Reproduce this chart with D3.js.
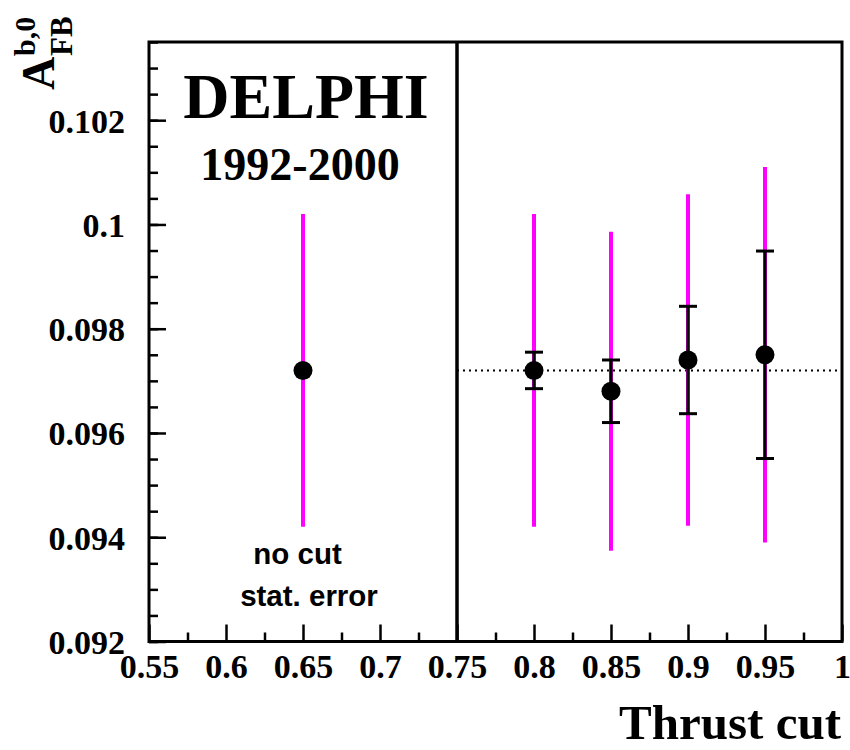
<!DOCTYPE html>
<html>
<head>
<meta charset="utf-8">
<script src="https://cdn.jsdelivr.net/npm/d3@7"></script>
<style>
  body { margin: 0; background: #fff; }
  svg { display: block; }
</style>
</head>
<body>
<svg id="chart" width="850" height="750"></svg>
<script>
// ---- data ----
const thrustCuts = [0.65, 0.8, 0.85, 0.9, 0.95];
const afbValues  = [0.0972, 0.0972, 0.0968, 0.0974, 0.0975];
const statErrors = [0.0030, 0.0030, 0.00306, 0.00318, 0.0036];
const cutErrors  = [null, 0.00035, 0.0006, 0.00103, 0.00199];
const referenceValue = 0.0972;
const xMajorTicks = [0.55, 0.6, 0.65, 0.7, 0.75, 0.8, 0.85, 0.9, 0.95, 1.0];
const xTickLabels = ["0.55", "0.6", "0.65", "0.7", "0.75", "0.8", "0.85", "0.9", "0.95", "1"];
const yMajorTicks = [0.092, 0.094, 0.096, 0.098, 0.1, 0.102];
const yTickLabels = ["0.092", "0.094", "0.096", "0.098", "0.1", "0.102"];
const separatorCut = 0.75;

// ---- layout ----
const svg = d3.select("#chart");
const L = 149, R = 842, T = 42, B = 641.5;
const x = d3.scaleLinear().domain([0.55, 1.0]).range([L, R]);
const y = d3.scaleLinear().domain([0.092, 0.1035]).range([B, T]);
const serif = "'Liberation Serif', 'Times New Roman', serif";
const sans = "'Liberation Sans', Arial, Helvetica, sans-serif";

const xMinor = d3.range(0, 9).map(i => 0.575 + i * 0.05);
const yMinor = d3.range(0, 24).map(i => 0.092 + i * 0.0005).filter(v => v <= 0.1035 + 1e-9);

// minor ticks
const gxMinor = svg.append("g").attr("transform", `translate(0,${B})`)
  .call(d3.axisBottom(x).tickValues(xMinor).tickSize(-9).tickFormat(""));
const gyMinor = svg.append("g").attr("transform", `translate(${L},0)`)
  .call(d3.axisLeft(y).tickValues(yMinor).tickSize(-9).tickFormat(""));
// major ticks
const gx = svg.append("g").attr("transform", `translate(0,${B})`)
  .call(d3.axisBottom(x).tickValues(xMajorTicks).tickSize(-17)
    .tickFormat((d, i) => xTickLabels[i]).tickPadding(0));
const gy = svg.append("g").attr("transform", `translate(${L},0)`)
  .call(d3.axisLeft(y).tickValues(yMajorTicks).tickSize(-17)
    .tickFormat((d, i) => yTickLabels[i]).tickPadding(0));

[gxMinor, gyMinor, gx, gy].forEach(g => {
  g.select(".domain").remove();
  g.selectAll(".tick line").attr("stroke", "#000").attr("stroke-width", 2.5);
});
gx.selectAll(".tick text")
  .attr("font-family", serif).attr("font-weight", "bold").attr("font-size", 34)
  .attr("fill", "#000").attr("y", 36).attr("dy", 0);
gy.selectAll(".tick text")
  .attr("font-family", serif).attr("font-weight", "bold").attr("font-size", 34)
  .attr("fill", "#000").attr("x", -24).attr("dy", "0.35em");

// frame
svg.append("rect").attr("x", L).attr("y", T).attr("width", R - L).attr("height", B - T)
  .attr("fill", "none").attr("stroke", "#000").attr("stroke-width", 3);
// separator
svg.append("line").attr("x1", x(separatorCut)).attr("x2", x(separatorCut))
  .attr("y1", T).attr("y2", B).attr("stroke", "#000").attr("stroke-width", 3.5);
// reference dotted line
svg.append("line").attr("x1", x(separatorCut)).attr("x2", R)
  .attr("y1", y(referenceValue)).attr("y2", y(referenceValue))
  .attr("stroke", "#000").attr("stroke-width", 2).attr("stroke-dasharray", "2,4");

const pts = thrustCuts.map((c, i) => ({ c, v: afbValues[i], s: statErrors[i], e: cutErrors[i] }));

// stat errors (magenta)
svg.append("g").selectAll("line").data(pts).join("line")
  .attr("x1", d => x(d.c)).attr("x2", d => x(d.c))
  .attr("y1", d => y(d.v + d.s)).attr("y2", d => y(d.v - d.s))
  .attr("stroke", "#ff00ff").attr("stroke-width", 4);

// cut variation errors (black with caps)
const eb = svg.append("g").selectAll("g").data(pts.filter(d => d.e != null)).join("g");
eb.append("line")
  .attr("x1", d => x(d.c)).attr("x2", d => x(d.c))
  .attr("y1", d => y(d.v + d.e)).attr("y2", d => y(d.v - d.e))
  .attr("stroke", "#000").attr("stroke-width", 3);
eb.append("line")
  .attr("x1", d => x(d.c) - 9).attr("x2", d => x(d.c) + 9)
  .attr("y1", d => y(d.v + d.e)).attr("y2", d => y(d.v + d.e))
  .attr("stroke", "#000").attr("stroke-width", 3);
eb.append("line")
  .attr("x1", d => x(d.c) - 9).attr("x2", d => x(d.c) + 9)
  .attr("y1", d => y(d.v - d.e)).attr("y2", d => y(d.v - d.e))
  .attr("stroke", "#000").attr("stroke-width", 3);

// markers
svg.append("g").selectAll("circle").data(pts).join("circle")
  .attr("cx", d => x(d.c)).attr("cy", d => y(d.v)).attr("r", 9.5).attr("fill", "#000");

// texts
svg.append("text").attr("x", 306).attr("y", 118).attr("text-anchor", "middle")
  .attr("font-family", serif).attr("font-weight", "bold").attr("font-size", 64).text("DELPHI");
svg.append("text").attr("x", 300).attr("y", 180).attr("text-anchor", "middle")
  .attr("font-family", serif).attr("font-weight", "bold").attr("font-size", 46).text("1992-2000");
svg.append("text").attr("x", 297.5).attr("y", 564).attr("text-anchor", "middle")
  .attr("font-family", sans).attr("font-weight", "bold").attr("font-size", 29.5).text("no cut");
svg.append("text").attr("x", 309).attr("y", 606).attr("text-anchor", "middle")
  .attr("font-family", sans).attr("font-weight", "bold").attr("font-size", 29.5).text("stat. error");

// x title
svg.append("text").attr("x", 841).attr("y", 739).attr("text-anchor", "end")
  .attr("font-family", serif).attr("font-weight", "bold").attr("font-size", 49).text("Thrust cut");

// y title: A^{b,0}_{FB}
const yt = svg.append("g").attr("transform", "translate(54,90) rotate(-90)");
yt.append("text").attr("x", 0).attr("y", 0)
  .attr("font-family", serif).attr("font-weight", "bold").attr("font-size", 46).text("A");
yt.append("text").attr("x", 34).attr("y", -19)
  .attr("font-family", serif).attr("font-weight", "bold").attr("font-size", 30).text("b,0");
yt.append("text").attr("x", 34).attr("y", 18)
  .attr("font-family", serif).attr("font-weight", "bold").attr("font-size", 31).text("FB");
</script>
</body>
</html>
